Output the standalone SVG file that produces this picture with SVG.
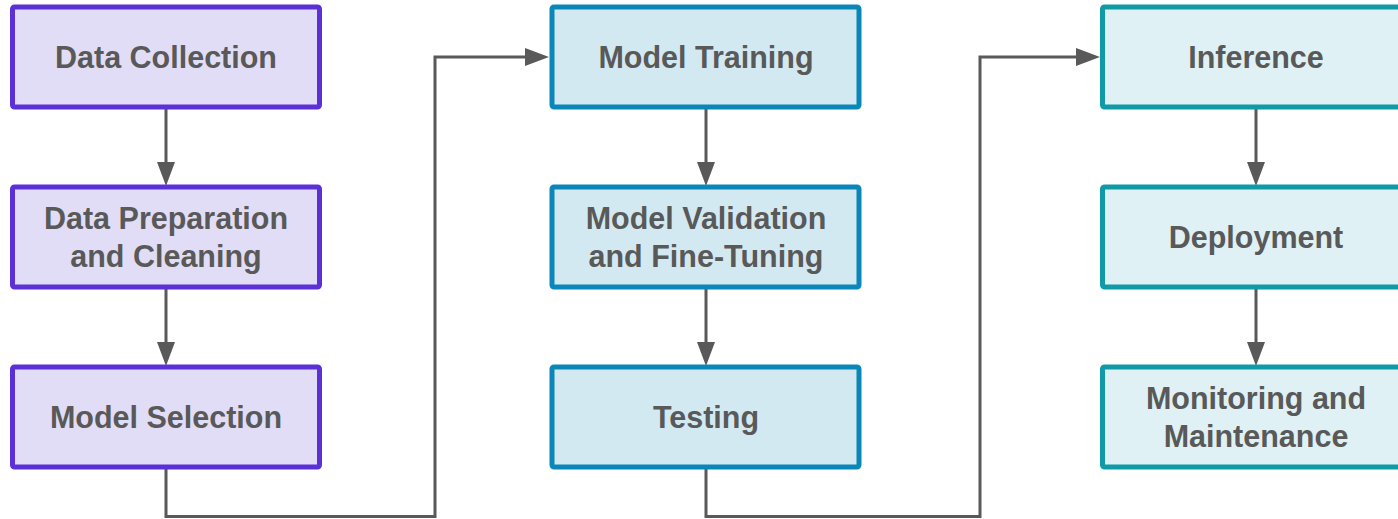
<svg xmlns="http://www.w3.org/2000/svg" width="1398" height="519" viewBox="0 0 1398 519">
  <style>
    .box { stroke-width: 5; }
    .c1 { fill: #e2ddf6; stroke: #5b30d6; }
    .c2 { fill: #d3e9f2; stroke: #0a87b8; }
    .c3 { fill: #dff1f4; stroke: #0f9aa6; }
    .lbl { font-family: "Liberation Sans", Arial, sans-serif; font-size: 30.5px; font-weight: bold; fill: #595959; text-anchor: middle; }
    .edge { fill: none; stroke: #595959; stroke-width: 3; marker-end: url(#arrow); }
  </style>
  <defs>
    <marker id="arrow" markerUnits="userSpaceOnUse" markerWidth="24" markerHeight="18" refX="14" refY="9" orient="auto">
      <path d="M0,0 L24,9 L0,18 Z" fill="#595959"/>
    </marker>
  </defs>
  <rect width="1398" height="519" fill="#ffffff"/>

  <!-- connectors -->
  <g id="connectors">
    <path class="edge" d="M166,109 V176"/>
    <path class="edge" d="M166,289 V356"/>
    <path class="edge" d="M166,469 V516.5 H435 V57 H539"/>
    <path class="edge" d="M706,109 V176"/>
    <path class="edge" d="M706,289 V356"/>
    <path class="edge" d="M706,469 V516.5 H980 V57 H1090"/>
    <path class="edge" d="M1256,109 V176"/>
    <path class="edge" d="M1256,289 V356"/>
  </g>

  <!-- stage 1: data -->
  <g id="data-collection">
    <rect class="box c1" x="12.5" y="7" width="307" height="100" rx="2"/>
    <text class="lbl" x="166" y="68">Data Collection</text>
  </g>
  <g id="data-preparation">
    <rect class="box c1" x="12.5" y="187" width="307" height="100" rx="2"/>
    <text class="lbl" x="166" y="229">Data Preparation</text>
    <text class="lbl" x="166" y="267">and Cleaning</text>
  </g>
  <g id="model-selection">
    <rect class="box c1" x="12.5" y="367" width="307" height="100" rx="2"/>
    <text class="lbl" x="166" y="428">Model Selection</text>
  </g>

  <!-- stage 2: model -->
  <g id="model-training">
    <rect class="box c2" x="552" y="7" width="307" height="100" rx="2"/>
    <text class="lbl" x="706" y="68">Model Training</text>
  </g>
  <g id="model-validation">
    <rect class="box c2" x="552" y="187" width="307" height="100" rx="2"/>
    <text class="lbl" x="706" y="229">Model Validation</text>
    <text class="lbl" x="706" y="267">and Fine-Tuning</text>
  </g>
  <g id="testing">
    <rect class="box c2" x="552" y="367" width="307" height="100" rx="2"/>
    <text class="lbl" x="706" y="428">Testing</text>
  </g>

  <!-- stage 3: operation -->
  <g id="inference">
    <rect class="box c3" x="1102.5" y="7" width="307" height="100" rx="2"/>
    <text class="lbl" x="1256" y="68">Inference</text>
  </g>
  <g id="deployment">
    <rect class="box c3" x="1102.5" y="187" width="307" height="100" rx="2"/>
    <text class="lbl" x="1256" y="248">Deployment</text>
  </g>
  <g id="monitoring">
    <rect class="box c3" x="1102.5" y="367" width="307" height="100" rx="2"/>
    <text class="lbl" x="1256" y="409">Monitoring and</text>
    <text class="lbl" x="1256" y="447">Maintenance</text>
  </g>
</svg>
